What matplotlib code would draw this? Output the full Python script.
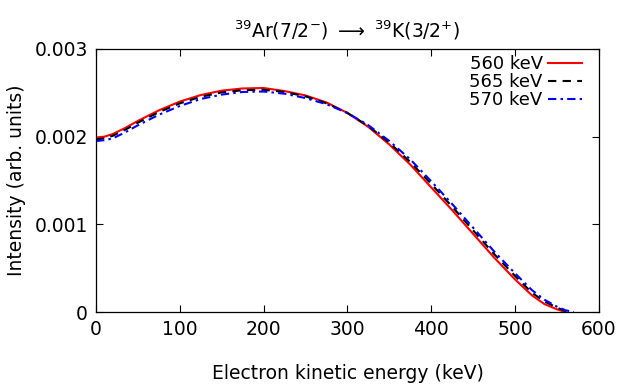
import matplotlib
matplotlib.use("Agg")
import matplotlib.pyplot as plt

plt.rcParams["font.family"] = ["DejaVu Sans"]
plt.rcParams["mathtext.fontset"] = "dejavusans"

# electron kinetic energy (keV) and intensity (arb. units)
e_560 = [0, 10, 20, 35, 50, 75, 100, 125, 150, 175, 200, 225, 250, 275, 300,
         325, 350, 375, 400, 425, 450, 475, 500, 520, 535, 550, 560]
i_560 = [0.00199, 0.00200, 0.00203, 0.00210, 0.00218, 0.00230, 0.00240,
         0.002475, 0.002525, 0.00255, 0.002555, 0.00252, 0.00247, 0.00239,
         0.00227, 0.00211, 0.00191, 0.00168, 0.00142, 0.00116, 0.00089,
         0.00062, 0.00037, 0.00019, 0.00009, 0.00003, 0.0]

e_565 = [0, 10, 20, 35, 50, 75, 100, 125, 150, 175, 200, 225, 250, 275, 300,
         325, 350, 375, 400, 425, 450, 475, 500, 520, 535, 550, 560, 565]
i_565 = [0.00197, 0.00198, 0.00201, 0.00208, 0.00216, 0.00228, 0.00238,
         0.002455, 0.002505, 0.00253, 0.002535, 0.00251, 0.00246, 0.00238,
         0.00227, 0.00212, 0.00193, 0.00171, 0.00146, 0.00120, 0.00093,
         0.00066, 0.00041, 0.00022, 0.00012, 0.00005, 0.00001, 0.0]

e_570 = [0, 10, 20, 35, 50, 75, 100, 125, 150, 175, 200, 225, 250, 275, 300,
         325, 350, 375, 400, 425, 450, 475, 500, 520, 535, 550, 560, 570]
i_570 = [0.00195, 0.00196, 0.00198, 0.00205, 0.00213, 0.00225, 0.00235,
         0.00243, 0.00248, 0.00251, 0.002515, 0.00249, 0.00244, 0.00237,
         0.00227, 0.00213, 0.00195, 0.00174, 0.00149, 0.00123, 0.00096,
         0.00069, 0.00044, 0.00025, 0.00014, 0.00006, 0.00002, 0.0]

x_ticks = [0, 100, 200, 300, 400, 500, 600]
y_ticks = [0, 0.001, 0.002, 0.003]
y_tick_labels = ["0", "0.001", "0.002", "0.003"]

fig = plt.figure(figsize=(6.34, 3.92), dpi=100)
ax = fig.add_axes([96 / 634, 80 / 392, 503 / 634, 263 / 392])

ax.plot(e_560, i_560, color="#ff0000", lw=1.5, label="560 keV")
ax.plot(e_565, i_565, color="black", lw=1.5, dashes=(4, 3), label="565 keV")
ax.plot(e_570, i_570, color="#0000ff", lw=1.5, dashes=(4, 2, 1.2, 2),
        label="570 keV")

ax.set_xlim(0, 600)
ax.set_ylim(0, 0.003)
ax.set_xticks(x_ticks)
ax.set_yticks(y_ticks)
ax.set_yticklabels(y_tick_labels)
ax.tick_params(direction="in", length=5, width=0.8, top=True, right=True,
               labelsize=13.5, pad=6)
for s in ax.spines.values():
    s.set_linewidth(0.9)

ax.set_xlabel("Electron kinetic energy (keV)", fontsize=13.5, labelpad=18)
ax.set_ylabel("Intensity (arb. units)", fontsize=13.5, labelpad=6)
ax.set_title(r"$^{39}$Ar(7/2$^{-}$) $\longrightarrow$ $^{39}$K(3/2$^{+}$)",
             fontsize=13.5, pad=8)

ax.legend(loc="upper right", bbox_to_anchor=(0.985, 1.01), frameon=False,
          markerfirst=False, fontsize=13, handlelength=1.9, handletextpad=0.3,
          labelspacing=0.0, borderaxespad=0.3, borderpad=0.2)

fig.savefig("out.png", dpi=100)
